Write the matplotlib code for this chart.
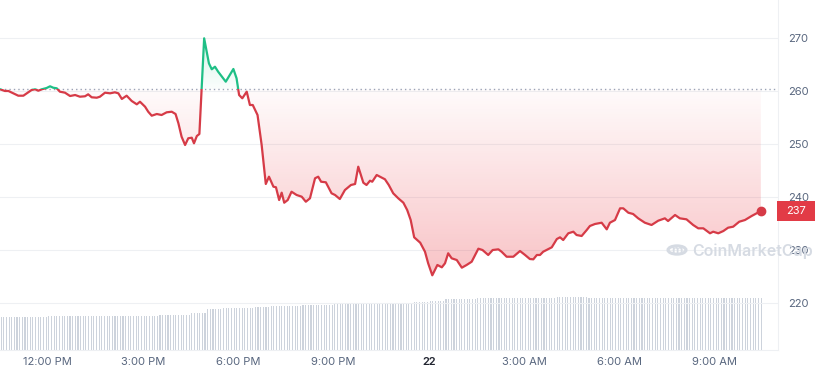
import numpy as np
import matplotlib
matplotlib.use("Agg")
import matplotlib.pyplot as plt
from matplotlib.colors import LinearSegmentedColormap
from matplotlib.patches import Rectangle, Circle
from matplotlib.path import Path
from matplotlib.transforms import blended_transform_factory

# time in hours since 00:00 on the 21st (24 = midnight of the 22nd)
hours = [10.51, 10.66, 10.77, 10.92, 11.08, 11.24, 11.35, 11.50, 11.61, 11.71,
         11.82, 11.97, 12.08, 12.18, 12.29, 12.39, 12.55, 12.71, 12.87, 13.02,
         13.18, 13.28, 13.39, 13.55, 13.65, 13.81, 13.97, 14.12, 14.23, 14.34,
         14.49, 14.65, 14.81, 14.91, 15.07, 15.17, 15.28, 15.44, 15.59, 15.75,
         15.91, 16.03, 16.12, 16.22, 16.33, 16.43, 16.54, 16.61, 16.70, 16.78,
         16.93, 17.08, 17.17, 17.27, 17.37, 17.61, 17.85, 17.95, 18.03, 18.13,
         18.27, 18.37, 18.46, 18.61, 18.74, 18.87, 18.97, 19.11, 19.19, 19.29,
         19.37, 19.45, 19.56, 19.68, 19.84, 20.00, 20.13, 20.26, 20.42, 20.52,
         20.61, 20.76, 20.94, 21.05, 21.20, 21.36, 21.55, 21.68, 21.78, 21.94,
         22.04, 22.15, 22.22, 22.36, 22.46, 22.62, 22.74, 22.88, 23.04, 23.20,
         23.32, 23.43, 23.54, 23.73, 23.88, 23.98, 24.11, 24.27, 24.41, 24.51,
         24.61, 24.72, 24.88, 25.04, 25.19, 25.35, 25.56, 25.69, 25.87, 26.01,
         26.19, 26.29, 26.45, 26.66, 26.87, 27.03, 27.18, 27.29, 27.40, 27.50,
         27.60, 27.87, 28.03, 28.13, 28.23, 28.39, 28.55, 28.65, 28.81, 28.97,
         29.07, 29.23, 29.44, 29.60, 29.70, 29.86, 30.02, 30.12, 30.28, 30.43,
         30.59, 30.80, 31.01, 31.22, 31.43, 31.53, 31.75, 31.90, 32.11, 32.32,
         32.48, 32.64, 32.85, 32.95, 33.11, 33.27, 33.42, 33.58, 33.77, 33.95,
         34.16, 34.32, 34.45]
price = [260.36, 260.04, 260.04, 259.60, 259.15, 259.15, 259.60, 260.23, 260.36, 260.09,
         260.36, 260.60, 260.93, 260.66, 260.55, 259.91, 259.72, 259.09, 259.28, 258.96,
         259.04, 259.41, 258.85, 258.77, 258.96, 259.72, 259.60, 259.79, 259.60, 258.53,
         259.15, 258.15, 257.52, 258.01, 257.07, 256.12, 255.37, 255.69, 255.50, 256.01,
         256.12, 255.69, 253.93, 251.40, 249.83, 251.10, 251.21, 250.15, 251.53, 251.91,
         270.00, 265.27, 264.14, 264.63, 263.69, 261.80, 264.20, 262.44, 259.28, 258.66,
         259.91, 257.39, 257.39, 255.50, 249.83, 242.46, 243.84, 241.95, 241.84, 239.43,
         240.82, 238.92, 239.43, 241.00, 240.38, 240.06, 239.11, 239.75, 243.54, 243.84,
         242.89, 242.78, 240.70, 240.38, 239.62, 241.32, 242.27, 242.46, 245.73, 242.70,
         242.27, 243.08, 242.89, 244.16, 243.84, 243.35, 242.27, 240.70, 239.75, 238.92,
         237.54, 235.65, 232.38, 231.36, 229.66, 227.47, 225.20, 227.15, 226.71, 227.47,
         229.36, 228.41, 228.09, 226.64, 227.15, 227.77, 230.23, 229.98, 229.04, 229.98,
         230.11, 229.66, 228.71, 228.71, 229.79, 229.04, 228.28, 228.22, 229.04, 229.04,
         229.66, 230.49, 232.06, 232.38, 231.87, 233.14, 233.44, 232.82, 232.63, 233.76,
         234.52, 234.90, 235.14, 233.89, 235.14, 235.65, 237.86, 237.86, 237.03, 236.79,
         235.97, 235.14, 234.71, 235.52, 235.97, 235.46, 236.60, 235.97, 235.78, 234.71,
         234.08, 234.08, 233.14, 233.44, 233.14, 233.57, 234.20, 234.39, 235.33, 235.65,
         236.41, 236.92, 237.35]
open_price = 260.36

# volume, one level per half hour (6 bars of 5 min each), relative units
vol_halfhour = [33.3, 33.3, 33.5, 33.7, 34.0, 34.0, 34.0, 34.0, 34.0, 34.3,
                34.7, 35.5, 37.0, 41.0, 42.0, 42.5, 43.5, 44.0, 44.5, 45.0,
                45.5, 46.0, 46.5, 46.7, 46.7, 47.0, 48.0, 49.5, 51.0, 51.5,
                51.7, 52.0, 52.0, 52.0, 52.5, 52.7, 52.7, 52.5, 52.5, 52.5,
                52.5, 52.5, 52.5, 52.3, 52.3, 52.0, 52.0, 52.0]
vol_start = 10.5

x_ticks = [12, 15, 18, 21, 24, 27, 30, 33]
x_labels = ["12:00 PM", "3:00 PM", "6:00 PM", "9:00 PM", "22", "3:00 AM", "6:00 AM", "9:00 AM"]
y_ticks = [220, 230, 240, 250, 260, 270]

RED = "#d63b47"
GREEN = "#1fbf86"
GREY = "#58667e"

plt.rcParams["font.family"] = ["Inter", "DejaVu Sans"]

t = np.array(hours)
p = np.array(price)
vol = np.repeat(vol_halfhour, 6)
t_vol = vol_start + (np.arange(len(vol)) + 0.5) / 12

W, H = 815, 376
fig = plt.figure(figsize=(W / 100, H / 100), dpi=100)
rect = [0, 1 - 350 / H, 778 / W, 350 / H]

ax_vol = fig.add_axes(rect)
ax = fig.add_axes(rect, sharex=ax_vol)
ax.patch.set_visible(False)

xlim = (10.505, 34.99)
ylim = (211.08, 277.24)

# volume bars
ax_vol.bar(t_vol, vol, width=0.42 / 12, color="#cdd3dc", linewidth=0)
ax_vol.set_ylim(0, 350)
ax_vol.axis("off")

# grid
for v in y_ticks:
    ax.axhline(v, color="#eef0f3", lw=0.8, zorder=0)

# gradient fills
red_poly = ax.fill_between(t, p, open_price, where=p <= open_price, interpolate=True,
                           facecolor="none", edgecolor="none")
green_poly = ax.fill_between(t, p, open_price, where=p >= open_price, interpolate=True,
                             facecolor="none", edgecolor="none")

grad = np.linspace(0, 1, 256).reshape(-1, 1)
red_cmap = LinearSegmentedColormap.from_list(
    "r", [(0.92, 0.22, 0.26, 0.30), (0.92, 0.22, 0.26, 0.02)])
green_cmap = LinearSegmentedColormap.from_list(
    "g", [(0.09, 0.78, 0.52, 0.02), (0.09, 0.78, 0.52, 0.18)])

img_r = ax.imshow(grad, extent=[t[0], t[-1], min(p), open_price], origin="lower",
                  cmap=red_cmap, aspect="auto", zorder=1, interpolation="bilinear")
img_r.set_clip_path(Path.make_compound_path(*red_poly.get_paths()), ax.transData)
img_g = ax.imshow(grad, extent=[t[0], t[-1], open_price, max(p)], origin="lower",
                  cmap=green_cmap, aspect="auto", zorder=1, interpolation="bilinear")
img_g.set_clip_path(Path.make_compound_path(*green_poly.get_paths()), ax.transData)

# baseline (open price)
ax.axhline(open_price, color="#9aa3b5", lw=1.0, linestyle=(0, (1, 2.2)), zorder=2)

# price line, red below the open and green above
line_r, = ax.plot(t, p, color=RED, lw=1.6, zorder=3, solid_joinstyle="round")
line_r.set_clip_path(Rectangle((0, 0), 100, open_price, transform=ax.transData))
line_g, = ax.plot(t, p, color=GREEN, lw=1.6, zorder=3, solid_joinstyle="round")
line_g.set_clip_path(Rectangle((0, open_price), 100, 100, transform=ax.transData))
ax.plot(t[-1], p[-1], "o", color=RED, ms=6, zorder=4)

ax.set_xlim(*xlim)
ax.set_ylim(*ylim)

ax.set_xticks(x_ticks)
ax.set_xticklabels(x_labels)
ax.set_yticks(y_ticks)
ax.yaxis.tick_right()
ax.tick_params(axis="x", length=0, pad=5, labelsize=8, colors=GREY)
ax.tick_params(axis="y", length=0, pad=7, labelsize=8, colors=GREY)
for lab in ax.get_xticklabels():
    if lab.get_text() == "22":
        lab.set_color("#222531")
        lab.set_fontweight("semibold")

for s in ["top", "left"]:
    ax.spines[s].set_visible(False)
ax.spines["right"].set_color("#eef0f3")
ax.spines["bottom"].set_color("#eef0f3")

# last price tag
tr = blended_transform_factory(fig.transFigure, ax.transData)
fig.add_artist(Rectangle((777 / W, p[-1] - 1.85), 38 / W, 3.7, transform=tr,
                         facecolor="#e23b46", edgecolor="none"))
fig.text(796 / W, p[-1], "{:.0f}".format(p[-1]), transform=tr, ha="center", va="center",
         color="white", fontsize=8)

# watermark
fig.add_artist(Circle((677 / W, 1 - 250 / H), 9 / W, transform=fig.transFigure,
                      facecolor="none", edgecolor="#d6dbe3", lw=2.2))
fig.text(677 / W, 1 - 251 / H, "m", ha="center", va="center", color="#d6dbe3",
         fontsize=9, fontweight="bold")
fig.text(692 / W, 1 - 251 / H, "CoinMarketCap", ha="left", va="center",
         color="#d6dbe3", fontsize=11.5, fontweight="semibold")

fig.savefig("out.png", dpi=100)
